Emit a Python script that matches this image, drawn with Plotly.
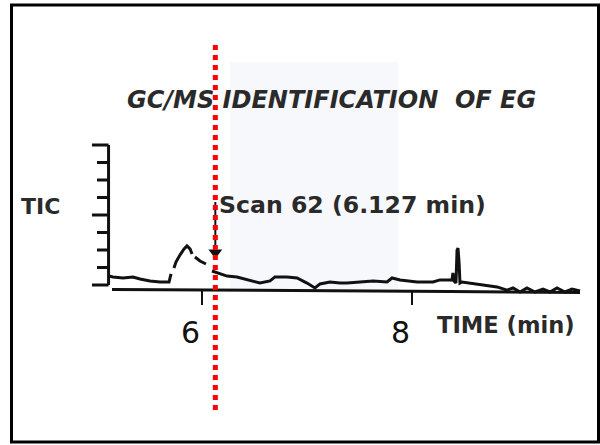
import plotly.graph_objects as go

# ---- data (time in min, TIC in arbitrary units) ----
seg_a_t = [5.114, 5.152, 5.248, 5.343, 5.410, 5.505, 5.600, 5.686, 5.705]
seg_a_v = [0.51, 0.46, 0.40, 0.46, 0.34, 0.23, 0.17, 0.17, 0.63]
seg_b_t = [5.733, 5.752, 5.790, 5.829, 5.857, 5.886, 5.905]
seg_b_v = [0.97, 1.31, 1.71, 2.06, 2.23, 2.06, 1.77]
seg_c_t = [5.933, 5.981, 6.038]
seg_c_v = [1.60, 1.37, 1.20]
seg_d_t = [6.095, 6.171, 6.238, 6.333, 6.429, 6.552, 6.648, 6.695, 6.810, 6.905,
           7.000, 7.076, 7.124, 7.219, 7.314, 7.381, 7.505, 7.629, 7.762, 7.810,
           7.886, 8.048, 8.200, 8.267, 8.381, 8.390, 8.400, 8.419, 8.429, 8.438,
           8.448, 8.457, 8.476, 8.552, 8.714, 8.810, 8.905, 8.962, 9.029, 9.095,
           9.171, 9.248, 9.314, 9.381, 9.457, 9.524, 9.600]
seg_d_v = [0.80, 0.63, 0.51, 0.46, 0.29, 0.11, 0.23, 0.46, 0.46, 0.40,
           0.11, -0.17, 0.06, 0.17, 0.11, 0.11, 0.17, 0.23, 0.17, 0.40,
           0.29, 0.17, 0.17, 0.29, 0.29, 0.69, 0.23, 0.11, 2.00, 2.11,
           1.31, 0.11, 0.17, 0.11, 0.00, -0.11, -0.29, -0.17, -0.40, -0.17,
           -0.40, -0.23, -0.40, -0.17, -0.40, -0.23, -0.34]

baseline_t = [5.143, 6.0, 6.933, 8.0, 8.362, 9.600]
baseline_v = [-0.26, -0.28, -0.31, -0.35, -0.37, -0.43]

y_ticks = [0, 1, 2, 3, 4, 5, 6, 7, 8]
y_long_ticks = [0, 4, 8]
x_ticks = [6, 8]
x_tick_labels = ["6", "8"]

scan_time = 6.127
title_text = "GC/MS IDENTIFICATION&nbsp; OF EG"
scan_text = "Scan 62 (6.127 min)"

W, H = 600, 445
X_RANGE = [4.0762, 9.7905]
Y_RANGE = [-9.1429, 16.2857]
LINE = "#111111"
TEXT = "#2a2a2a"

fig = go.Figure()

def join(*segs):
    ts, vs = [], []
    for t, v in segs:
        ts += list(t) + [None]
        vs += list(v) + [None]
    return ts, vs

tt, vv = join((seg_a_t, seg_a_v), (seg_b_t, seg_b_v), (seg_c_t, seg_c_v), (seg_d_t, seg_d_v))
fig.add_trace(go.Scatter(x=tt, y=vv, mode="lines", connectgaps=False,
                         line=dict(color=LINE, width=3, shape="linear"), hoverinfo="skip"))
fig.add_trace(go.Scatter(x=baseline_t, y=baseline_v, mode="lines",
                         line=dict(color=LINE, width=3), hoverinfo="skip"))

y_axis_t = 5.110
shapes = []
shapes.append(dict(type="rect", xref="paper", yref="paper",
                   x0=230 / W, x1=398 / W, y0=1 - 290 / H, y1=1 - 62 / H,
                   fillcolor="#f6f8fc", line=dict(width=0), layer="below"))
shapes.append(dict(type="line", xref="x", yref="y", x0=y_axis_t, x1=y_axis_t,
                   y0=min(y_ticks), y1=max(y_ticks), line=dict(color=LINE, width=3)))
for yt in y_ticks:
    x0 = 4.952 if yt in y_long_ticks else 5.0
    shapes.append(dict(type="line", xref="x", yref="y", x0=x0, x1=y_axis_t,
                       y0=yt, y1=yt, line=dict(color=LINE, width=3)))
for xt in x_ticks:
    shapes.append(dict(type="line", xref="x", yref="y", x0=xt, x1=xt,
                       y0=-0.3, y1=-1.14, line=dict(color=LINE, width=2)))

# arrow
shapes.append(dict(type="line", xref="x", yref="y", x0=scan_time, x1=scan_time,
                   y0=4.74, y1=2.0, line=dict(color=LINE, width=2)))
fig.add_trace(go.Scatter(x=[scan_time], y=[1.85], mode="markers",
                         marker=dict(symbol="triangle-down", size=12, color=LINE),
                         hoverinfo="skip"))

# red dotted line
shapes.append(dict(type="line", xref="x", yref="y", x0=scan_time, x1=scan_time,
                   y0=13.71, y1=-7.26, line=dict(color="#ff0000", width=5, dash="5px,5px"),
                   layer="above"))
# frame
shapes.append(dict(type="rect", xref="paper", yref="paper",
                   x0=11.5 / W, x1=598.5 / W, y0=1 - 442 / H, y1=1 - 5 / H,
                   line=dict(color="#000000", width=3)))

annotations = [
    dict(text=title_text, xref="paper", yref="paper", x=331 / W, y=1 - 100 / H,
         xanchor="center", yanchor="middle", showarrow=False,
         font=dict(family="DejaVu Sans", size=24, color=TEXT, weight="bold", style="italic")),
    dict(text="TIC", xref="paper", yref="paper", x=19 / W, y=1 - 206 / H,
         xanchor="left", yanchor="middle", showarrow=False,
         font=dict(family="DejaVu Sans", size=22, color=TEXT, weight="bold")),
    dict(text=scan_text, xref="paper", yref="paper", x=217 / W, y=1 - 205 / H,
         xanchor="left", yanchor="middle", showarrow=False,
         font=dict(family="DejaVu Sans", size=23.6, color=TEXT, weight="bold")),
    dict(text="TIME (min)", xref="paper", yref="paper", x=435 / W, y=1 - 325 / H,
         xanchor="left", yanchor="middle", showarrow=False,
         font=dict(family="DejaVu Sans", size=22.6, color=TEXT, weight="bold")),
]
for xt, lab in zip(x_ticks, x_tick_labels):
    annotations.append(dict(text=lab, xref="x", yref="y", x=xt, y=-2.7, xshift=-12,
                            xanchor="center", yanchor="middle", showarrow=False,
                            font=dict(family="DejaVu Sans", size=30, color="#111111")))

fig.update_layout(
    width=W, height=H, margin=dict(l=0, r=0, t=0, b=0),
    paper_bgcolor="white", plot_bgcolor="rgba(0,0,0,0)",
    showlegend=False,
    xaxis=dict(range=X_RANGE, visible=False, fixedrange=True),
    yaxis=dict(range=Y_RANGE, visible=False, fixedrange=True),
    shapes=shapes, annotations=annotations,
)
fig.write_html("out.html")
